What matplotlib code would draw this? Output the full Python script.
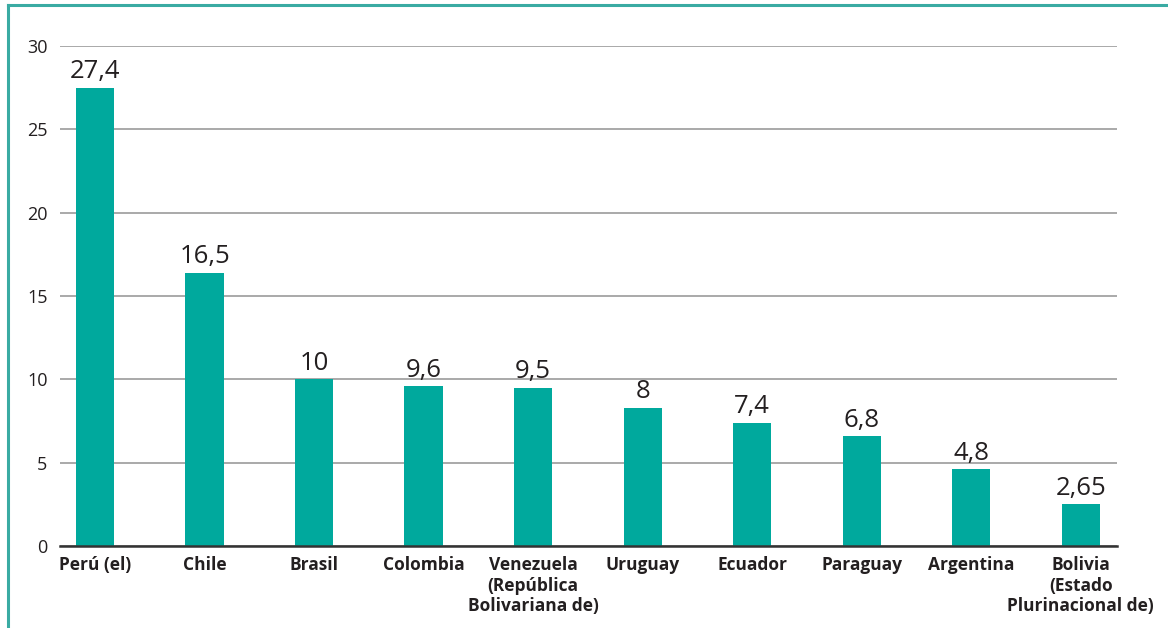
import numpy as np
import matplotlib.pyplot as plt
from matplotlib.lines import Line2D

paises = ['Perú (el)', 'Chile', 'Brasil', 'Colombia',
          'Venezuela\n(República\nBolivariana de)', 'Uruguay', 'Ecuador',
          'Paraguay', 'Argentina', 'Bolivia\n(Estado\nPlurinacional de)']
# bar heights as drawn in the picture
alturas = [27.5, 16.4, 10.0, 9.6, 9.5, 8.3, 7.4, 6.6, 4.6, 2.5]
# value labels as printed
etiquetas = ['27,4', '16,5', '10', '9,6', '9,5', '8', '7,4', '6,8', '4,8', '2,65']
yticks = [0, 5, 10, 15, 20, 25, 30]

verde = '#00A99D'
fuente = 'Open Sans'

fig = plt.figure(figsize=(11.68, 6.28), dpi=100)
ax = fig.add_axes([60/1168, 1 - 546/628, 1057/1168, 500/628])

x = np.arange(len(paises))
ax.bar(x, alturas, width=0.35, color=verde, zorder=2)

for xi, h, t in zip(x, alturas, etiquetas):
    ax.text(xi, h + 0.2, t, ha='center', va='bottom', fontsize=18.5,
            family=fuente, color='#231f20', zorder=3)

ax.set_xlim(-0.32, len(paises) - 1 + 0.33)
ax.set_ylim(0, 30)
ax.set_yticks(yticks)
ax.set_yticklabels([str(v) for v in yticks], family=fuente, fontsize=13,
                   color='#231f20')
ax.set_xticks(x)
ax.set_xticklabels(paises, family=fuente, fontsize=12.5, fontweight='bold',
                   color='#231f20', linespacing=1.2)
ax.tick_params(axis='both', length=0)
ax.tick_params(axis='y', pad=9)
ax.tick_params(axis='x', pad=7)

ax.grid(axis='y', color='#a3a3a3', linewidth=1.3, zorder=0)
for s in ['top', 'right', 'left']:
    ax.spines[s].set_visible(False)
ax.spines['bottom'].set_color('#333333')
ax.spines['bottom'].set_linewidth(1.8)
ax.spines['bottom'].set_zorder(4)

# teal panel frame (left and top)
fig.add_artist(Line2D([8/1168, 8/1168], [0, 1 - 5/628], color='#3aaba3',
                      linewidth=2.2, transform=fig.transFigure))
fig.add_artist(Line2D([8/1168, 1], [1 - 5/628, 1 - 5/628], color='#3aaba3',
                      linewidth=2.2, transform=fig.transFigure))

fig.savefig('out.png', dpi=100)
